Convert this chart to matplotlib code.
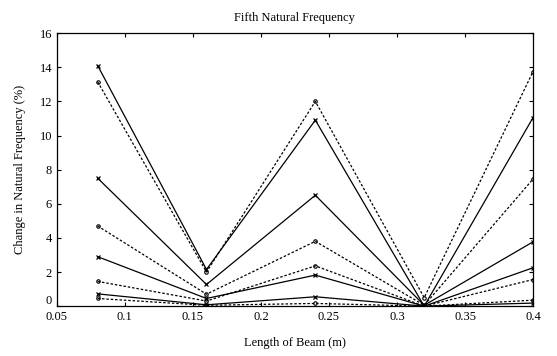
import matplotlib
matplotlib.use("Agg")
import matplotlib.pyplot as plt
import matplotlib.transforms as mtransforms

plt.rcParams['font.family'] = ['Liberation Serif', 'DejaVu Serif']

beam_length = [0.08, 0.16, 0.24, 0.32, 0.40]

solid_1 = [14.1, 2.15, 10.9, 0.0, 11.05]
dashed_1 = [13.15, 2.0, 12.0, 0.5, 13.75]
solid_2 = [7.5, 1.27, 6.5, 0.05, 3.77]
dashed_2 = [4.7, 0.7, 3.8, 0.05, 7.45]
solid_3 = [2.9, 0.45, 1.82, 0.0, 2.25]
dashed_3 = [1.45, 0.3, 2.36, 0.0, 1.56]
solid_4 = [0.72, 0.08, 0.55, 0.0, 0.18]
dashed_4 = [0.45, 0.05, 0.16, 0.0, 0.35]

x_ticks = [0.05, 0.1, 0.15, 0.2, 0.25, 0.3, 0.35, 0.4]
x_tick_labels = ["0.05", "0.1", "0.15", "0.2", "0.25", "0.3", "0.35", "0.4"]
y_ticks = [0, 2, 4, 6, 8, 10, 12, 14, 16]

fig = plt.figure(figsize=(5.57, 3.56), dpi=100)
ax = fig.add_axes([0.102, 0.140, 0.855, 0.767])

for ys in [solid_1, solid_2, solid_3, solid_4]:
    ax.plot(beam_length, ys, color='black', linestyle='-', linewidth=0.9,
            marker='x', markersize=3, markeredgewidth=0.9)
for ys in [dashed_1, dashed_2, dashed_3, dashed_4]:
    ax.plot(beam_length, ys, color='black', linestyle=(0, (2, 1.5)), linewidth=0.9,
            marker='o', markersize=2.5, markerfacecolor='none', markeredgewidth=0.8)

ax.set_xlim(0.05, 0.4)
ax.set_ylim(0, 16)
ax.set_xticks(x_ticks)
ax.set_xticklabels(x_tick_labels)
ax.set_yticks(y_ticks)
ax.tick_params(direction='in', top=True, right=True, labelsize=9, length=3)
for s in ax.spines.values():
    s.set_linewidth(0.9)

# nudge the "0" y tick label up slightly so it does not collide with "0.05"
fig.canvas.draw()
zero_lbl = ax.get_yticklabels()[0]
zero_lbl.set_transform(zero_lbl.get_transform() +
                       mtransforms.ScaledTranslation(0, 5 / 72, fig.dpi_scale_trans))

ax.set_title("Fifth Natural Frequency", fontsize=9, pad=9)
ax.set_xlabel("Length of Beam (m)", fontsize=9, labelpad=10)
ax.set_ylabel("Change in Natural Frequency (%)", fontsize=9, labelpad=10)

fig.savefig("out.png", dpi=100)
